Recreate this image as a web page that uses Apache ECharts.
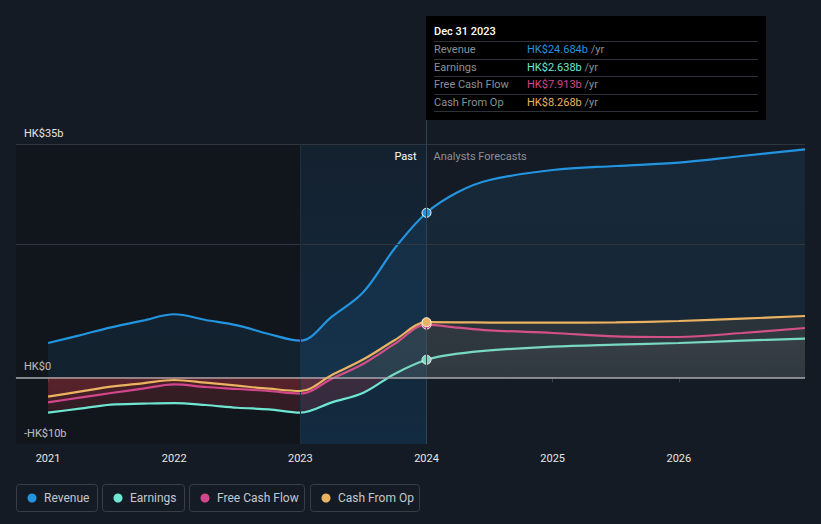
<!DOCTYPE html>
<html>
<head>
<meta charset="utf-8">
<script src="https://cdn.jsdelivr.net/npm/echarts@6/dist/echarts.min.js"></script>
<style>
html,body{margin:0;padding:0;background:#151b24;}
#c{width:821px;height:524px;}
</style>
</head>
<body>
<div id="c"></div>
<script>
// ---- data (decimal years; values in HK$ billions) ----
const dates = [2021.0, 2021.25, 2021.5, 2021.75, 2022.0, 2022.25, 2022.5, 2022.75, 2023.0, 2023.25, 2023.5, 2023.75, 2024.0,
               2024.25, 2024.5, 2025.0, 2025.5, 2026.0, 2026.5, 2027.0];
const revenue  = [5.15, 6.3, 7.5, 8.5, 9.46, 8.6, 7.8, 6.5, 5.5, 9.1, 12.8, 19.4, 24.684,
                  27.8, 29.6, 31.1, 31.7, 32.2, 33.2, 34.2];
const earnings = [-5.3, -4.7, -4.1, -3.95, -3.86, -4.15, -4.56, -4.8, -5.3, -3.75, -2.3, 0.55, 2.638,
                  3.55, 4.05, 4.6, 4.9, 5.15, 5.5, 5.8];
const fcf      = [-3.76, -3.05, -2.35, -1.7, -1.05, -1.45, -1.75, -2.05, -2.45, -0.2, 2.05, 5.05, 7.913,
                  7.45, 7.05, 6.65, 6.15, 6.05, 6.65, 7.4];
const cfo      = [-2.9, -2.15, -1.4, -0.9, -0.4, -0.8, -1.25, -1.7, -2.05, 0.35, 2.7, 5.6, 8.268,
                  8.25, 8.22, 8.2, 8.25, 8.45, 8.8, 9.2];
const yearTicks = [2021, 2022, 2023, 2024, 2025, 2026];
const yLabels = {35: 'HK$35b', 0: 'HK$0', '-10': '-HK$10b'};
const gridLines = [35, 20];
const pastStart = 2023.0, nowDate = 2024.0;
const tipTitle = 'Dec 31 2023';
const seriesNames = ['Revenue', 'Earnings', 'Free Cash Flow', 'Cash From Op'];
const seriesColors = ['#2394df', '#6ee6d2', '#d2468c', '#ebb261'];
const tipValues = ['HK$24.684b', 'HK$2.638b', 'HK$7.913b', 'HK$8.268b'];
const xMin = 2020.746, xMax = 2027.0, yMin = -10, yMax = 35;

const FONT = 'Roboto, "Noto Sans", sans-serif';
const G = {left: 16, right: 16, top: 144, bottom: 80};
const gTop = G.top, gBot = 524 - G.bottom;
const zeroFrac = yMax / (yMax - yMin);

function pts(arr, color) {
  return dates.map((d, i) => {
    if (d === nowDate) {
      return {value: [d, arr[i]], symbol: 'circle', symbolSize: 9,
              itemStyle: {color: color, borderColor: '#ffffff', borderWidth: 1}};
    }
    return [d, arr[i]];
  });
}
function splitArea(posTop, posZero, negZero, negBot) {
  return {
    color: {type: 'linear', x: 0, y: gTop, x2: 0, y2: gBot, global: true,
      colorStops: [
        {offset: 0, color: posTop},
        {offset: zeroFrac * 0.8, color: posTop},
        {offset: zeroFrac, color: posZero},
        {offset: zeroFrac, color: negZero},
        {offset: 1, color: negBot}
      ]}
  };
}
function lineSeries(name, arr, color, z, area) {
  return {
    name: name, type: 'line', data: pts(arr, color), smooth: 0.35,
    symbol: 'none', showSymbol: true, z: z,
    lineStyle: {color: color, width: 2.2}, itemStyle: {color: color},
    areaStyle: area, emphasis: {disabled: true}, silent: true
  };
}

const chart = echarts.init(document.getElementById('c'), null, {renderer: 'svg'});
const option = {
  backgroundColor: '#151b24',
  animation: false,
  textStyle: {fontFamily: FONT},
  grid: G,
  xAxis: {
    type: 'value', min: xMin, max: xMax,
    axisLine: {show: true, lineStyle: {color: '#3a3f48', width: 1}},
    axisTick: {show: true, customValues: yearTicks, length: 5, lineStyle: {color: '#3a3f48'}},
    axisLabel: {customValues: yearTicks, color: '#e6e6e6', fontSize: 11, margin: 9,
                fontFamily: FONT, formatter: v => String(Math.round(v))},
    splitLine: {show: false}
  },
  yAxis: {
    type: 'value', min: yMin, max: yMax, interval: 5,
    axisLine: {show: false}, axisTick: {show: false}, splitLine: {show: false},
    axisLabel: {inside: true, margin: 8, color: '#e6e6e6', fontSize: 11, fontFamily: FONT,
                verticalAlign: 'bottom', padding: [0, 0, 5, 0],
                showMinLabel: true, showMaxLabel: true,
                formatter: v => yLabels[String(v)] || ''}
  },
  series: [
    {
      type: 'line', data: [], z: 1, silent: true,
      markArea: {
        silent: true,
        data: [
          [{xAxis: xMin, itemStyle: {color: 'rgba(0,0,0,0.18)'}}, {xAxis: pastStart}],
          [{xAxis: pastStart, itemStyle: {color: {type: 'linear', x: 0, y: 0, x2: 0, y2: 1,
              colorStops: [{offset: 0, color: 'rgba(10,90,150,0.10)'}, {offset: 1, color: 'rgba(10,100,165,0.22)'}]}}},
           {xAxis: nowDate}]
        ]
      },
      markLine: {
        silent: true, symbol: 'none', label: {show: false},
        data: gridLines.map(v => ({yAxis: v, lineStyle: {color: '#30363f', width: 1, type: 'solid'}}))
          .concat([{xAxis: pastStart, lineStyle: {color: '#1d2e3e', width: 1, type: 'solid'}},
                   {xAxis: nowDate, lineStyle: {color: '#2a4357', width: 1, type: 'solid'}}])
      }
    },
    lineSeries(seriesNames[0], revenue, seriesColors[0], 2, {
      color: {type: 'linear', x: 0, y: gTop, x2: 0, y2: gTop + (gBot - gTop) * zeroFrac, global: true,
        colorStops: [{offset: 0, color: 'rgba(35,148,223,0.15)'}, {offset: 1, color: 'rgba(35,148,223,0.13)'}]}
    }),
    lineSeries(seriesNames[1], earnings, seriesColors[1], 3,
      splitArea('rgba(125,130,140,0.16)', 'rgba(125,130,140,0.06)', 'rgba(205,55,65,0.30)', 'rgba(205,55,65,0.20)')),
    lineSeries(seriesNames[2], fcf, seriesColors[2], 4,
      splitArea('rgba(100,105,115,0.12)', 'rgba(100,105,115,0.10)', 'rgba(205,55,65,0.16)', 'rgba(205,55,65,0.10)')),
    lineSeries(seriesNames[3], cfo, seriesColors[3], 5,
      splitArea('rgba(235,178,97,0.13)', 'rgba(235,178,97,0.11)', 'rgba(205,55,65,0.16)', 'rgba(205,55,65,0.10)')),
    {
      type: 'line', data: [], z: 6, silent: true,
      markLine: {silent: true, symbol: 'none', label: {show: false},
        data: [{yAxis: 0, lineStyle: {color: '#a4a8ae', width: 1.5, type: 'solid'}}]}
    }
  ]
};
chart.setOption(option);

// ---- decorations (tooltip panel, past/forecast labels, legend) ----
const nowX = chart.convertToPixel({gridIndex: 0}, [nowDate, 0])[0];
const topY = chart.convertToPixel({gridIndex: 0}, [nowDate, yMax])[1];
const boxX = Math.round(nowX) - 1, boxY = 16, boxW = 340, boxH = 104;
const g = [];
g.push({type: 'line', shape: {x1: nowX, y1: boxY + boxH, x2: nowX, y2: topY}, style: {stroke: '#2a4357', lineWidth: 1}, z: 10});
g.push({type: 'rect', shape: {x: boxX, y: boxY, width: boxW, height: boxH}, style: {fill: '#000000'}, z: 20});
g.push({type: 'text', x: boxX + 8, y: boxY + 15, style: {text: tipTitle, fill: '#ffffff', font: '500 11px ' + FONT, verticalAlign: 'middle'}, z: 21});
const rowY0 = boxY + 25;
for (let i = 0; i < 5; i++) {
  const ly = Math.round(rowY0 + i * 17.5) + 0.5;
  g.push({type: 'line', shape: {x1: boxX + 8, y1: ly, x2: boxX + 332, y2: ly}, style: {stroke: '#2e3238', lineWidth: 1}, z: 21});
}
for (let i = 0; i < 4; i++) {
  const cy = rowY0 + i * 17.5 + 8.5;
  g.push({type: 'text', x: boxX + 8, y: cy, style: {text: seriesNames[i], fill: '#8b9096', font: '11px ' + FONT, verticalAlign: 'middle'}, z: 21});
  g.push({type: 'text', x: boxX + 101, y: cy, style: {
    text: '{v|' + tipValues[i] + '}{u| /yr}', verticalAlign: 'middle',
    rich: {v: {fill: seriesColors[i], font: '11px ' + FONT}, u: {fill: '#8b9096', font: '11px ' + FONT}}}, z: 21});
}
g.push({type: 'text', x: nowX - 10, y: topY + 12, style: {text: 'Past', fill: '#ffffff', font: '11px ' + FONT, align: 'right', verticalAlign: 'middle'}, z: 10});
g.push({type: 'text', x: nowX + 7, y: topY + 12, style: {text: 'Analysts Forecasts', fill: '#8b9096', font: '11px ' + FONT, align: 'left', verticalAlign: 'middle'}, z: 10});

// legend boxes
const legendBoxes = [[16, 81], [102, 82], [189, 115], [310, 109]];
for (let i = 0; i < 4; i++) {
  const [bx, bw] = legendBoxes[i];
  g.push({type: 'rect', shape: {x: bx + 0.5, y: 484.5, width: bw, height: 27, r: 3}, style: {fill: 'none', stroke: '#383d46', lineWidth: 1}, z: 10});
  g.push({type: 'circle', shape: {cx: bx + 16, cy: 498, r: 4.5}, style: {fill: seriesColors[i]}, z: 11});
  g.push({type: 'text', x: bx + 28, y: 498, style: {text: seriesNames[i], fill: '#c4c8ce', font: '12px ' + FONT, verticalAlign: 'middle'}, z: 11});
}
chart.setOption({graphic: g});
</script>
</body>
</html>
